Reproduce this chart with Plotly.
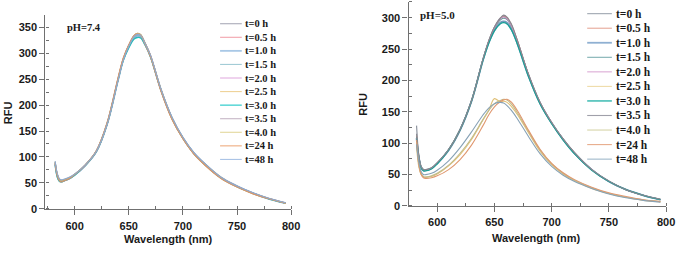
import plotly.graph_objects as go

# ---------------- data ----------------
wavelength = [582, 584, 586, 588, 590, 595, 600, 610, 620, 630, 640, 645, 650, 655,
              658, 661, 665, 670, 680, 690, 700, 710, 720, 735, 750, 765, 780, 795]

labels = ["t=0 h", "t=0.5 h", "t=1.0 h", "t=1.5 h", "t=2.0 h", "t=2.5 h",
          "t=3.0 h", "t=3.5 h", "t=4.0 h", "t=24 h", "t=48 h"]

# pH 7.4
ph74_t0   = [90, 66, 56, 54, 55, 59, 66, 84, 110, 163, 248, 288, 313, 332, 336, 334, 318, 295, 228, 175, 137, 108, 87, 60, 43, 30, 19, 11]
ph74_t05  = [88, 64, 55, 53, 55, 59, 66, 85, 111, 164, 249, 289, 315, 334, 338, 335, 319, 295, 227, 174, 136, 107, 86, 60, 43, 30, 19, 11]
ph74_t10  = [87, 63, 54, 53, 54, 58, 65, 84, 110, 163, 247, 287, 312, 330, 333, 331, 317, 294, 228, 175, 137, 108, 87, 61, 44, 30, 19, 11]
ph74_t15  = [89, 65, 56, 54, 55, 59, 66, 84, 110, 162, 247, 287, 313, 331, 335, 333, 318, 295, 228, 175, 137, 108, 87, 60, 43, 30, 19, 11]
ph74_t20  = [86, 62, 53, 52, 54, 58, 65, 84, 110, 163, 248, 289, 314, 333, 337, 335, 319, 296, 228, 174, 136, 107, 86, 60, 43, 30, 19, 11]
ph74_t25  = [88, 64, 55, 53, 55, 59, 66, 85, 112, 166, 251, 290, 315, 333, 337, 334, 318, 294, 226, 172, 135, 106, 85, 59, 42, 29, 19, 11]
ph74_t30  = [85, 61, 53, 52, 54, 58, 65, 84, 110, 163, 247, 286, 310, 327, 330, 329, 316, 293, 227, 174, 136, 107, 86, 60, 43, 30, 19, 11]
ph74_t35  = [90, 67, 57, 55, 56, 60, 67, 85, 111, 164, 248, 288, 314, 333, 337, 335, 320, 297, 229, 175, 137, 108, 87, 61, 44, 30, 20, 12]
ph74_t40  = [91, 67, 57, 55, 56, 60, 67, 85, 111, 164, 249, 289, 315, 334, 338, 336, 320, 296, 229, 175, 137, 108, 87, 61, 43, 30, 20, 11]
ph74_t24  = [87, 63, 54, 52, 54, 58, 66, 85, 112, 166, 252, 291, 316, 334, 337, 334, 317, 293, 225, 172, 135, 106, 85, 59, 42, 29, 19, 11]
ph74_t48  = [92, 68, 58, 56, 57, 61, 67, 85, 111, 163, 247, 287, 313, 332, 336, 334, 319, 296, 229, 176, 138, 109, 88, 61, 44, 31, 20, 12]

# pH 5.0
ph50_t0   = [128, 80, 63, 58, 57, 60, 68, 90, 122, 168, 234, 263, 285, 299, 302, 299, 287, 263, 208, 164, 133, 107, 85, 58, 39, 26, 17, 10]
ph50_t05  = [112, 78, 62, 57, 57, 60, 68, 90, 122, 167, 233, 262, 284, 298, 303, 300, 288, 264, 208, 164, 133, 106, 84, 58, 39, 26, 17, 10]
ph50_t10  = [108, 77, 61, 57, 57, 60, 68, 89, 121, 167, 232, 260, 280, 292, 294, 292, 281, 259, 206, 163, 132, 106, 84, 58, 39, 26, 17, 10]
ph50_t15  = [110, 78, 62, 58, 57, 60, 68, 90, 122, 168, 234, 262, 283, 296, 299, 297, 285, 262, 207, 163, 132, 106, 84, 58, 39, 26, 17, 10]
ph50_t20  = [105, 76, 61, 57, 57, 60, 68, 89, 121, 167, 233, 262, 284, 298, 301, 298, 286, 263, 208, 164, 133, 106, 84, 58, 39, 26, 17, 10]
ph50_t25  = [95, 62, 50, 46, 46, 47, 51, 64, 82, 106, 137, 152, 171, 166, 167, 165, 158, 146, 116, 87, 66, 51, 40, 28, 20, 14, 9, 7]
ph50_t30  = [106, 76, 60, 56, 56, 59, 67, 89, 121, 167, 232, 259, 279, 290, 292, 290, 280, 258, 205, 162, 131, 105, 83, 57, 39, 26, 17, 10]
ph50_t35  = [115, 79, 63, 58, 58, 61, 69, 90, 122, 168, 234, 263, 285, 299, 304, 301, 289, 264, 209, 165, 133, 107, 85, 58, 40, 26, 17, 11]
ph50_t40  = [102, 66, 52, 47, 46, 48, 52, 65, 84, 108, 138, 152, 163, 168, 170, 169, 162, 149, 118, 89, 67, 52, 41, 29, 20, 14, 10, 7]
ph50_t24  = [105, 66, 50, 45, 44, 45, 48, 58, 74, 97, 128, 145, 158, 166, 169, 170, 165, 152, 120, 90, 68, 53, 42, 30, 21, 15, 10, 7]
ph50_t48  = [98, 70, 55, 50, 50, 52, 57, 72, 93, 118, 145, 156, 163, 165, 164, 160, 152, 139, 110, 83, 63, 49, 39, 28, 19, 13, 9, 6]

ph74_series = [ph74_t0, ph74_t05, ph74_t10, ph74_t15, ph74_t20, ph74_t25,
               ph74_t30, ph74_t35, ph74_t40, ph74_t24, ph74_t48]
ph50_series = [ph50_t0, ph50_t05, ph50_t10, ph50_t15, ph50_t20, ph50_t25,
               ph50_t30, ph50_t35, ph50_t40, ph50_t24, ph50_t48]

colors_left = ["#a9abb8", "#f2a3ad", "#a9c8e6", "#a3ccd6", "#e2aee0", "#efd39a",
               "#3fcfcf", "#c6b6c6", "#e3d89c", "#eeac7e", "#abc4e6"]
colors_right = ["#9ea6b0", "#e6a898", "#8fb0d2", "#7fb0b2", "#dcaad6", "#efdca8",
                "#1fb0a6", "#a0a0aa", "#d6d4a8", "#e8ac8c", "#9fb8ca"]
# darker versions used for the overlapping spectra
plot_colors_left = ["#8f8c98", "#e08f95", "#8fb2d6", "#86b4be", "#c996c6", "#d9b878",
                    "#27bcbc", "#a897a8", "#c4b87c", "#dd9466", "#8fa9cf"]
plot_colors_right = ["#858c98", "#d48f80", "#7699bd", "#66999c", "#c693c0", "#e0c078",
                     "#17a096", "#88888f", "#c0bc8a", "#e09870", "#87a2b6"]
widths = [1.1, 1.1, 1.8, 1.1, 1.1, 1.1, 1.3, 1.1, 1.1, 1.1, 1.1]

# ---------------- layout helpers ----------------
W, H = 686, 253
def fx(px):
    return px / W
def fy(py):
    return 1 - py / H

fig = go.Figure()

for i, lab in enumerate(labels):
    fig.add_trace(go.Scatter(x=wavelength, y=ph74_series[i], mode="lines", name=lab,
                             line=dict(color=plot_colors_left[i], width=widths[i], shape="spline"),
                             xaxis="x", yaxis="y", showlegend=False))
for i, lab in enumerate(labels):
    fig.add_trace(go.Scatter(x=wavelength, y=ph50_series[i], mode="lines", name=lab,
                             line=dict(color=plot_colors_right[i], width=widths[i], shape="spline"),
                             xaxis="x2", yaxis="y2", showlegend=False))

tick_font = dict(family="Liberation Sans, Arial, sans-serif", size=11, color="#1a1a1a", weight="bold")
title_font = dict(family="Liberation Sans, Arial, sans-serif", size=11, color="#1a1a1a", weight="bold")
axis_common = dict(showline=True, linecolor="#707070", linewidth=1.3, ticks="outside",
                   ticklen=5, tickwidth=1, tickcolor="#707070", showgrid=False,
                   zeroline=False, tickfont=tick_font, mirror=False)
minor = dict(dtick=25, ticks="inside", ticklen=3, tickcolor="#707070")

fig.update_layout(
    width=W, height=H, autosize=False,
    margin=dict(l=0, r=0, t=0, b=0),
    paper_bgcolor="white", plot_bgcolor="white",
    xaxis=dict(domain=[fx(46), fx(295)], range=[573, 800], dtick=50, tick0=600,
               minor=minor, ticklabelstandoff=2, anchor="y", **axis_common),
    yaxis=dict(domain=[fy(214), fy(15)], range=[0, 374], dtick=50, tick0=0,
               minor=minor, anchor="x", **axis_common),
    xaxis2=dict(domain=[fx(414), fx(675)], range=[575, 800], dtick=50, tick0=600,
                minor=minor, ticklabelstandoff=1, anchor="y2", **axis_common),
    yaxis2=dict(domain=[fy(211), fy(2)], range=[0, 325], dtick=50, tick0=0,
                minor=minor, anchor="x2", **axis_common),
)

# axis titles
for (tx, ty) in [(171, 245), (544, 244)]:
    fig.add_annotation(text="Wavelength (nm)", x=fx(tx), y=fy(ty), xref="paper", yref="paper",
                       xanchor="center", yanchor="middle", showarrow=False, font=title_font)
for (tx, ty) in [(8, 115), (368, 107)]:
    fig.add_annotation(text="RFU", x=fx(tx), y=fy(ty), xref="paper", yref="paper", textangle=-90,
                       xanchor="center", yanchor="middle", showarrow=False, font=title_font)

serif = dict(family="Liberation Serif, Times New Roman, serif", color="#1a1a1a", weight="bold")

# panel labels
fig.add_annotation(text="pH=7.4", x=fx(66), y=fy(28), xref="paper", yref="paper",
                   xanchor="left", yanchor="middle", showarrow=False, font=dict(size=10.5, **serif))
fig.add_annotation(text="pH=5.0", x=fx(424), y=fy(15), xref="paper", yref="paper",
                   xanchor="left", yanchor="middle", showarrow=False, font=dict(size=11, **serif))

# compact legends (drawn as shapes + text)
def draw_legend(x0, x1, xt, y0, dy, cols, fsize):
    for i, lab in enumerate(labels):
        yy = y0 + i * dy
        fig.add_shape(type="line", xref="paper", yref="paper",
                      x0=fx(x0), x1=fx(x1), y0=fy(yy), y1=fy(yy),
                      line=dict(color=cols[i], width=widths[i]))
        fig.add_annotation(text=lab, x=fx(xt), y=fy(yy), xref="paper", yref="paper",
                           xanchor="left", yanchor="middle", showarrow=False,
                           font=dict(size=fsize, **serif))

draw_legend(223, 245, 246, 24.3, 13.9, colors_left, 10.5)
draw_legend(595, 620, 622, 14, 14.9, colors_right, 11.5)

fig.write_html("out.html", config={"displayModeBar": False},
               post_script="document.body.style.margin='0';document.body.style.padding='0';")
